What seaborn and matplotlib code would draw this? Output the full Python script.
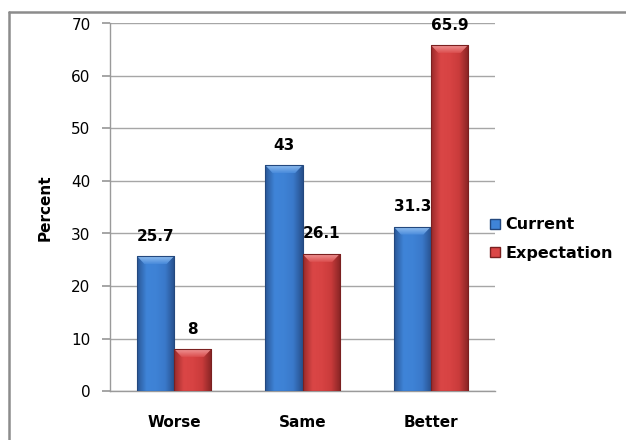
import numpy as np
import pandas as pd
import matplotlib
matplotlib.use("Agg")
import matplotlib.pyplot as plt
import seaborn as sns
from matplotlib.colors import LinearSegmentedColormap
from matplotlib.patches import Polygon, Patch
from matplotlib.lines import Line2D

categories = ["Worse", "Same", "Better"]
current = [25.7, 43, 31.3]
expectation = [8, 26.1, 65.9]
series = ["Current", "Expectation"]
y_ticks = [0, 10, 20, 30, 40, 50, 60, 70]

df = pd.DataFrame({
    "category": categories * 2,
    "value": current + expectation,
    "series": [series[0]] * 3 + [series[1]] * 3,
})

sns.set_theme(style="white")
plt.rcParams["font.family"] = ["DejaVu Sans"]
plt.rcParams["text.color"] = "black"

base = {"Current": "#3d80d4", "Expectation": "#d64242"}
ramps = {
    "Current": ["#2a5796", "#3f84d8", "#3e82d5", "#3a79ca", "#27508c"],
    "Expectation": ["#9a2a2a", "#da4646", "#d74343", "#c93b3b", "#862424"],
}
tops = {"Current": ("#9cc6f4", "#4a8cdc"), "Expectation": ("#f4a0a0", "#dc5050")}
edges = {"Current": "#23487e", "Expectation": "#7a2020"}

fig = plt.figure(figsize=(6.26, 4.4), dpi=100)
ax = fig.add_axes([110 / 626, 49 / 440, 385 / 626, 367.5 / 440])

sns.barplot(data=df, x="category", y="value", hue="series", order=categories,
            hue_order=series, palette=base, width=0.58, gap=0, ax=ax,
            legend=False, saturation=1, edgecolor="none", errorbar=None)

ax.set_ylim(0, 70)
ax.set_xlim(-0.5, 2.5)

# shaded fill and bevelled top for each bar
for i, s in enumerate(series):
    cmap = LinearSegmentedColormap.from_list(s, ramps[s])
    top_cmap = LinearSegmentedColormap.from_list(s + "_top", [tops[s][1], tops[s][0]])
    grad = np.linspace(0, 1, 64).reshape(1, -1)
    vgrad = np.linspace(1, 0, 32).reshape(-1, 1)
    for patch in ax.containers[i]:
        x, w, h = patch.get_x(), patch.get_width(), patch.get_height()
        im = ax.imshow(grad, cmap=cmap, extent=[x, x + w, 0, h],
                       aspect="auto", zorder=3, interpolation="bicubic")
        im.set_clip_path(patch)
        d = w * 0.2
        e = 1.5
        bevel = Polygon([[x, h], [x + w, h], [x + w - d, h - e], [x + d, h - e]],
                        closed=True, facecolor="none", edgecolor="none", zorder=4)
        ax.add_patch(bevel)
        tim = ax.imshow(vgrad, cmap=top_cmap, extent=[x, x + w, h - e, h],
                        aspect="auto", zorder=4, interpolation="bicubic", alpha=0.9)
        tim.set_clip_path(bevel)
        ax.add_patch(plt.Rectangle((x, 0), w, h, facecolor="none",
                                   edgecolor=edges[s], linewidth=0.8, zorder=5))
        ax.annotate(f"{h:g}", (x + w / 2, h), xytext=(0, 9),
                    textcoords="offset points", ha="center", va="bottom",
                    fontsize=11, fontweight="bold", color="black", zorder=6)

ax.set_xlim(-0.5, 2.5)
ax.set_ylim(0, 70)
ax.set_yticks(y_ticks)
ax.yaxis.grid(True, color="#a6a6a6", linewidth=1)
ax.set_axisbelow(True)
for side in ["top", "right"]:
    ax.spines[side].set_visible(False)
ax.spines["left"].set_color("#9a9a9a")
ax.spines["bottom"].set_color("#9a9a9a")
ax.spines["left"].set_linewidth(1)
ax.spines["bottom"].set_linewidth(1)
ax.tick_params(axis="y", left=True, length=6, color="#9a9a9a", labelsize=11,
               pad=8, labelcolor="black")
ax.tick_params(axis="x", bottom=False, labelsize=11, pad=11, labelcolor="black")
for lab in ax.get_xticklabels():
    lab.set_fontweight("bold")
ax.set_xlabel("")
ax.set_ylabel("Percent", fontsize=11, fontweight="bold", color="black")
ax.yaxis.set_label_coords(-0.15, 0.5)

handles = [Patch(facecolor=ramps[s][1], edgecolor=edges[s], label=s) for s in series]
leg = fig.legend(handles=handles, loc="center left", bbox_to_anchor=(476 / 626, 1 - 239 / 440),
                 frameon=False, fontsize=11.5, handlelength=0.6, handleheight=0.6,
                 handletextpad=0.35, labelspacing=0.85)
for t in leg.get_texts():
    t.set_fontweight("bold")
    t.set_color("black")

# outer frame
fig.add_artist(Line2D([9 / 626, 1], [1 - 12 / 440, 1 - 12 / 440], transform=fig.transFigure,
                      color="#8c8c8c", linewidth=1.8))
fig.add_artist(Line2D([9 / 626, 9 / 626], [0, 1 - 12 / 440], transform=fig.transFigure,
                      color="#8c8c8c", linewidth=1.8))

fig.savefig("out.png", dpi=100)
